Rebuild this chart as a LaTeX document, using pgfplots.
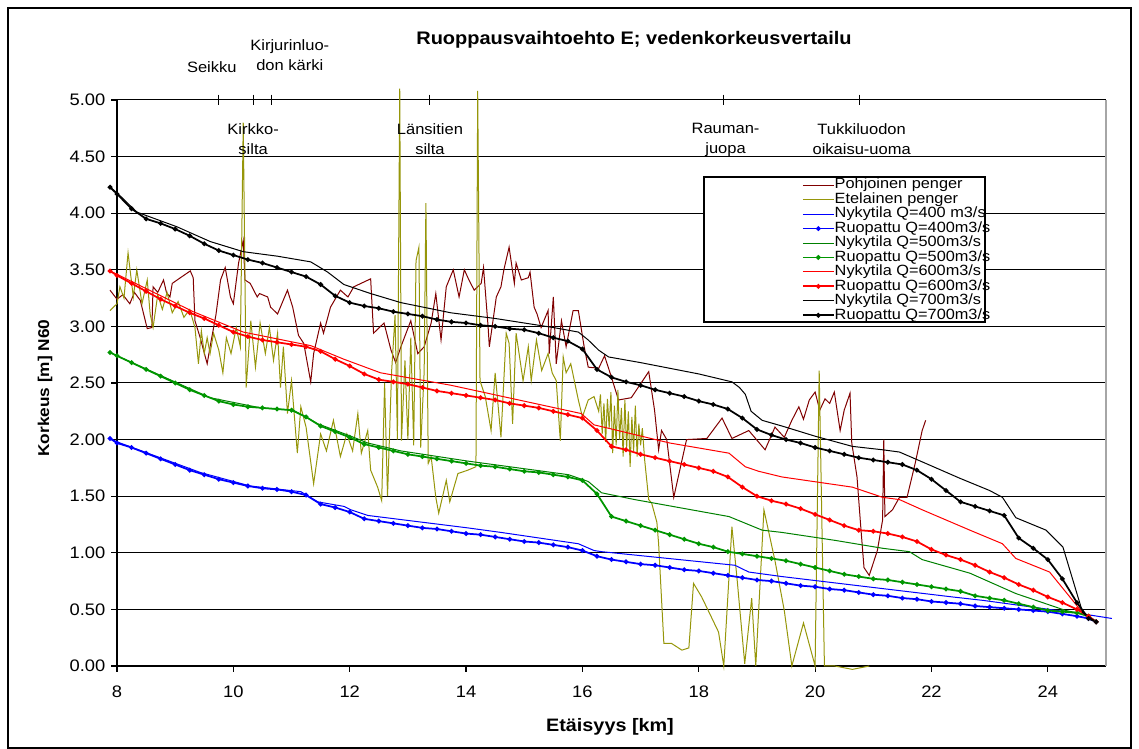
\documentclass[border=0pt]{standalone}
\usepackage{fontspec}
\setmainfont{Liberation Sans}[FakeStretch=1.1]
\usepackage{pgfplots}
\pgfplotsset{compat=1.18}

\definecolor{northbank}{RGB}{128,0,0}
\definecolor{southbank}{RGB}{150,150,10}
\definecolor{q400}{RGB}{0,0,255}
\definecolor{q500}{RGB}{0,128,0}
\definecolor{q500r}{RGB}{0,150,0}
\definecolor{q600}{RGB}{255,0,0}

\begin{document}
\begin{tikzpicture}
\useasboundingbox (-70.2pt,-49.8pt) rectangle (613.2pt,399.6pt);
\draw[line width=1pt] (-65.4pt,-49.2pt) rectangle (608.4pt,394.8pt);

\begin{axis}[
  at={(0pt,0pt)}, anchor=south west,
  scale only axis, width=593.4pt, height=339.6pt,
  xmin=8, xmax=25, ymin=0, ymax=5,
  clip=false,
  axis x line*=bottom, axis y line*=left,
  axis line style={line width=0.7pt, -},
  xtick={8,10,12,14,16,18,20,22,24},
  ytick={0,0.5,1,1.5,2,2.5,3,3.5,4,4.5,5},
  tick align=outside, major tick length=3.5pt,
  tick style={black, line width=0.7pt},
  ymajorgrids, grid style={black, line width=0.6pt},
  /pgf/number format/assume math mode=true,
  yticklabel style={/pgf/number format/.cd, fixed, fixed zerofill, precision=2},
  ticklabel style={font=\fontsize{10}{12}\selectfont},
  xticklabel style={yshift=-5pt},
  legend style={at={(0.6926,0.8622)}, anchor=north west, draw=none, fill=none,
    inner sep=0pt, outer sep=0pt, row sep=0pt,
    font=\fontsize{8.9}{9}\selectfont,
    nodes={inner ysep=0pt, inner xsep=0pt, text height=6.6pt, text depth=2.07pt},
    /tikz/every even column/.append style={column sep=3pt}},
  legend cell align=left,
  legend image code/.code={\draw[mark repeat=2,mark phase=2,#1] plot coordinates {(0pt,0pt) (9.3pt,0pt) (18.6pt,0pt)};},
  ruop/.style={line width=1.05pt, mark=*, mark size=0.85pt},
]

% legend frame (white, covers the grid behind the legend)
\filldraw[fill=white, draw=black, line width=0.7pt] (axis description cs:0.5935,0.8640) rectangle (axis description cs:0.8777,0.6078);
% right border of the plot area
\draw[gray!70, line width=0.7pt] (axis description cs:1,0) -- (axis description cs:1,1);

% north embankment
\addplot[northbank, line width=0.6pt] coordinates {
(7.88,3.32)(8.00,3.24)(8.10,3.28)(8.22,3.20)(8.30,3.30)(8.40,3.23)(8.52,2.98)(8.60,2.99)(8.62,3.35)(8.70,3.30)(8.80,3.41)
(8.85,3.30)(8.91,3.26)(8.95,3.38)(9.09,3.43)(9.26,3.49)(9.31,3.43)(9.34,3.05)(9.43,2.90)(9.55,2.67)(9.60,2.82)(9.70,3.10)
(9.78,3.41)(9.86,3.52)(9.95,3.26)(10.00,3.20)(10.09,3.56)(10.17,3.76)(10.20,3.41)(10.29,3.38)(10.41,3.26)(10.45,3.29)
(10.59,3.26)(10.64,3.17)(10.76,3.11)(10.93,3.32)(11.02,3.17)(11.12,2.92)(11.21,2.85)(11.33,2.51)(11.38,2.76)(11.50,3.03)
(11.55,2.94)(11.67,3.17)(11.84,3.32)(11.97,3.26)(12.07,3.35)(12.36,3.42)(12.41,2.94)(12.59,3.03)(12.71,2.79)(12.79,2.68)
(12.88,2.82)(13.05,3.05)(13.17,2.76)(13.28,2.82)(13.40,3.03)(13.48,3.29)(13.57,2.88)(13.66,3.35)(13.78,3.50)(13.88,3.26)
(13.97,3.50)(14.05,3.41)(14.14,3.32)(14.26,3.38)(14.30,3.52)(14.38,2.99)(14.40,2.82)(14.52,3.26)(14.60,3.35)(14.65,3.50)
(14.74,3.70)(14.83,3.38)(14.86,3.56)(14.95,3.41)(15.07,3.43)(15.10,3.48)(15.17,3.17)(15.22,3.11)(15.29,2.99)(15.41,3.14)
(15.43,2.76)(15.50,3.26)(15.55,2.67)(15.64,3.05)(15.72,2.82)(15.84,3.14)(15.93,3.14)(16.03,2.82)(16.10,2.64)(16.28,2.63)
(16.38,2.74)(16.50,2.55)(16.62,2.35)(16.84,2.37)(17.14,2.60)(17.24,2.26)(17.31,1.91)(17.36,2.08)(17.45,2.00)(17.57,1.49)
(17.79,2.00)(18.14,2.01)(18.40,2.19)(18.57,2.01)(18.86,2.08)(19.14,1.91)(19.31,2.11)(19.47,2.02)(19.60,2.17)(19.72,2.29)
(19.80,2.18)(19.90,2.35)(20.00,2.42)(20.08,2.26)(20.17,2.36)(20.25,2.32)(20.33,2.42)(20.43,2.08)(20.50,2.26)(20.60,2.41)
(20.63,1.97)(20.72,1.67)(20.78,1.26)(20.84,0.87)(20.93,0.80)(21.07,1.02)(21.16,1.29)(21.18,2.00)(21.20,1.32)(21.33,1.38)
(21.45,1.49)(21.58,1.49)(21.72,1.79)(21.84,2.08)(21.90,2.17)
};
\addlegendentry{Pohjoinen penger}

% south embankment
\addplot[southbank, line width=0.6pt] coordinates {
(7.88,3.14)(8.00,3.20)(8.05,3.35)(8.12,3.25)(8.19,3.65)(8.28,3.26)(8.34,3.50)(8.43,3.20)(8.52,3.41)(8.57,3.11)
(8.62,2.99)(8.70,3.28)(8.78,3.15)(8.86,3.30)(8.95,3.12)(9.05,3.22)(9.15,3.08)(9.25,3.15)(9.34,2.99)(9.40,2.67)
(9.45,2.96)(9.50,2.76)(9.55,2.90)(9.60,2.76)(9.66,2.94)(9.75,2.79)(9.82,2.59)(9.88,2.90)(9.96,2.76)(10.05,2.99)
(10.12,2.82)(10.17,4.80)(10.22,2.46)(10.30,3.05)(10.38,2.64)(10.46,3.03)(10.55,2.76)(10.62,2.99)(10.69,2.70)(10.76,2.94)
(10.81,2.46)(10.86,2.82)(10.93,2.23)(11.00,2.52)(11.10,1.88)(11.16,2.29)(11.25,2.11)(11.38,1.61)(11.50,2.05)(11.60,1.90)
(11.72,2.17)(11.84,1.85)(11.95,2.05)(12.05,1.90)(12.14,2.23)(12.20,1.88)(12.31,2.08)(12.36,1.73)(12.48,1.58)(12.55,1.46)
(12.60,2.50)(12.65,1.50)(12.72,2.60)(12.78,3.10)(12.82,2.00)(12.86,5.10)(12.89,1.99)(12.95,2.70)(13.00,2.00)(13.05,2.90)
(13.10,1.95)(13.14,3.58)(13.19,3.70)(13.22,1.93)(13.28,2.60)(13.31,4.09)(13.35,1.79)(13.40,1.85)(13.48,1.49)(13.53,1.35)
(13.62,1.55)(13.66,1.64)(13.72,1.45)(13.86,1.70)(14.03,1.73)(14.17,1.76)(14.20,5.08)(14.24,2.52)(14.33,2.38)(14.43,2.08)
(14.50,2.59)(14.60,2.02)(14.69,2.94)(14.74,2.85)(14.80,2.14)(14.86,2.94)(14.98,2.52)(15.07,2.82)(15.12,2.52)(15.21,2.88)
(15.30,2.61)(15.41,2.76)(15.48,2.59)(15.55,2.52)(15.62,1.99)(15.67,2.73)(15.72,2.59)(15.80,2.67)(15.93,2.35)(16.00,2.20)
(16.10,2.35)(16.20,2.38)(16.28,2.25)(16.31,2.40)(16.34,2.05)(16.37,2.32)(16.40,1.98)(16.43,2.36)(16.46,2.10)(16.49,2.42)
(16.52,1.88)(16.55,2.30)(16.58,1.95)(16.61,2.44)(16.64,2.00)(16.67,2.28)(16.70,1.85)(16.73,2.35)(16.76,1.92)(16.79,2.25)
(16.82,1.76)(16.85,2.20)(16.88,1.90)(16.91,2.30)(16.94,1.85)(16.97,2.14)(17.00,1.95)(17.03,2.10)(17.07,1.82)(17.14,1.47)
(17.19,1.44)(17.28,1.27)(17.31,1.08)(17.40,0.20)(17.53,0.20)(17.71,0.14)(17.83,0.16)(17.91,0.73)(18.05,0.61)(18.34,0.30)
(18.43,0.00)(18.57,1.23)(18.66,0.76)(18.79,0.02)(18.91,0.60)(18.98,0.00)(19.12,1.38)(19.31,0.93)(19.47,0.49)(19.60,0.00)
(19.80,0.38)(20.00,0.00)(20.07,2.61)(20.16,0.00)(20.34,0.00)(20.64,-0.03)(20.93,0.00)
};
\addlegendentry{Etelainen penger}

\addplot[q400, line width=0.6pt] coordinates {
(7.88,2.01)(8.00,1.98)(9.43,1.71)(10.29,1.59)(11.16,1.54)(11.45,1.45)(11.90,1.41)(12.02,1.38)(12.31,1.33)(14.03,1.22)
(14.60,1.18)(15.93,1.08)(16.20,1.02)(16.33,1.01)(18.62,0.89)(18.86,0.83)(19.43,0.79)(22.36,0.61)(22.88,0.58)(24.60,0.46)
(25.10,0.42)
};
\addlegendentry{Nykytila Q=400 m3/s}

\addplot[q400, ruop] coordinates {
(7.88,2.01)(8.00,1.97)(8.25,1.93)(8.50,1.88)(8.75,1.83)(9.00,1.78)(9.25,1.73)(9.50,1.69)(9.75,1.65)(10.00,1.62)
(10.25,1.59)(10.50,1.57)(10.75,1.56)(11.00,1.54)(11.25,1.51)(11.50,1.43)(11.75,1.40)(12.00,1.36)(12.25,1.30)(12.50,1.28)
(12.75,1.26)(13.00,1.24)(13.25,1.22)(13.50,1.21)(13.75,1.19)(14.00,1.17)(14.25,1.16)(14.50,1.14)(14.75,1.12)(15.00,1.10)
(15.25,1.09)(15.50,1.07)(15.75,1.05)(16.00,1.02)(16.25,0.97)(16.50,0.94)(16.75,0.92)(17.00,0.90)(17.25,0.89)(17.50,0.87)
(17.75,0.85)(18.00,0.84)(18.25,0.82)(18.50,0.80)(18.75,0.78)(19.00,0.76)(19.25,0.75)(19.50,0.73)(19.75,0.71)(20.00,0.70)
(20.25,0.68)(20.50,0.67)(20.75,0.65)(21.00,0.63)(21.25,0.62)(21.50,0.60)(21.75,0.59)(22.00,0.57)(22.25,0.56)(22.50,0.55)
(22.75,0.53)(23.00,0.52)(23.25,0.51)(23.50,0.50)(23.75,0.49)(24.00,0.48)(24.25,0.46)(24.50,0.44)(24.70,0.42)(24.83,0.39)
};
\addlegendentry{Ruopattu Q=400m3/s}

\addplot[q500, line width=0.6pt] coordinates {
(7.88,2.77)(8.00,2.74)(9.60,2.37)(10.47,2.28)(11.03,2.26)(11.45,2.14)(12.02,2.03)(12.31,1.97)(12.88,1.90)(14.03,1.81)
(15.76,1.69)(16.10,1.63)(16.33,1.53)(16.90,1.47)(18.52,1.32)(19.09,1.20)(19.43,1.18)(20.34,1.11)(21.16,1.04)(21.62,1.01)
(21.84,0.94)(22.66,0.82)(23.45,0.64)(24.31,0.49)(24.60,0.46)(24.83,0.39)
};
\addlegendentry{Nykytila Q=500m3/s}

\addplot[q500r, ruop] coordinates {
(7.88,2.77)(8.00,2.74)(8.25,2.68)(8.50,2.62)(8.75,2.56)(9.00,2.50)(9.25,2.44)(9.50,2.39)(9.75,2.34)(10.00,2.31)
(10.25,2.29)(10.50,2.28)(10.75,2.27)(11.00,2.26)(11.25,2.20)(11.50,2.12)(11.75,2.07)(12.00,2.02)(12.25,1.96)(12.50,1.93)
(12.75,1.90)(13.00,1.87)(13.25,1.85)(13.50,1.83)(13.75,1.81)(14.00,1.79)(14.25,1.77)(14.50,1.76)(14.75,1.74)(15.00,1.72)
(15.25,1.71)(15.50,1.69)(15.75,1.67)(16.00,1.64)(16.25,1.52)(16.50,1.32)(16.75,1.28)(17.00,1.24)(17.25,1.20)(17.50,1.16)
(17.75,1.12)(18.00,1.08)(18.25,1.05)(18.50,1.01)(18.75,0.99)(19.00,0.97)(19.25,0.95)(19.50,0.93)(19.75,0.90)(20.00,0.87)
(20.25,0.84)(20.50,0.81)(20.75,0.79)(21.00,0.77)(21.25,0.76)(21.50,0.74)(21.75,0.72)(22.00,0.70)(22.25,0.68)(22.50,0.66)
(22.75,0.62)(23.00,0.60)(23.25,0.58)(23.50,0.55)(23.75,0.52)(24.00,0.49)(24.25,0.48)(24.50,0.47)(24.70,0.44)(24.83,0.39)
};
\addlegendentry{Ruopattu Q=500m3/s}

\addplot[q600, line width=0.6pt] coordinates {
(7.88,3.49)(8.00,3.46)(9.31,3.13)(10.17,2.95)(11.33,2.83)(11.90,2.71)(12.53,2.59)(13.74,2.48)(15.98,2.23)(16.20,2.13)
(16.45,2.10)(17.50,1.97)(18.52,1.88)(18.80,1.76)(19.03,1.72)(19.43,1.67)(20.64,1.58)(21.16,1.49)(21.45,1.47)(21.84,1.38)
(22.66,1.20)(23.22,1.08)(23.45,0.95)(24.03,0.83)(24.60,0.47)(24.83,0.39)
};
\addlegendentry{Nykytila Q=600m3/s}

\addplot[q600, ruop] coordinates {
(7.88,3.49)(8.00,3.45)(8.25,3.38)(8.50,3.31)(8.75,3.24)(9.00,3.18)(9.25,3.12)(9.50,3.07)(9.75,3.01)(10.00,2.95)
(10.25,2.91)(10.50,2.88)(10.75,2.86)(11.00,2.84)(11.25,2.82)(11.50,2.78)(11.75,2.71)(12.00,2.65)(12.25,2.58)(12.50,2.53)
(12.75,2.51)(13.00,2.49)(13.25,2.46)(13.50,2.43)(13.75,2.41)(14.00,2.39)(14.25,2.37)(14.50,2.35)(14.75,2.32)(15.00,2.30)
(15.25,2.28)(15.50,2.25)(15.75,2.22)(16.00,2.19)(16.25,2.08)(16.50,1.94)(16.75,1.91)(17.00,1.87)(17.25,1.84)(17.50,1.81)
(17.75,1.78)(18.00,1.75)(18.25,1.72)(18.50,1.67)(18.75,1.58)(19.00,1.50)(19.25,1.46)(19.50,1.43)(19.75,1.39)(20.00,1.34)
(20.25,1.29)(20.50,1.24)(20.75,1.20)(21.00,1.19)(21.25,1.17)(21.50,1.14)(21.75,1.10)(22.00,1.03)(22.25,0.98)(22.50,0.94)
(22.75,0.89)(23.00,0.83)(23.25,0.78)(23.50,0.72)(23.75,0.67)(24.00,0.61)(24.25,0.56)(24.50,0.50)(24.70,0.44)(24.83,0.39)
};
\addlegendentry{Ruopattu Q=600m3/s}

\addplot[black, line width=0.6pt] coordinates {
(7.88,4.23)(8.00,4.18)(8.34,4.01)(9.03,3.88)(9.60,3.75)(10.17,3.66)(10.76,3.62)(11.33,3.57)(11.62,3.48)(11.90,3.37)
(12.36,3.29)(12.88,3.21)(13.74,3.12)(14.50,3.07)(15.00,3.03)(15.50,2.99)(15.93,2.95)(16.10,2.88)(16.28,2.79)(16.45,2.73)
(17.00,2.68)(17.50,2.63)(18.00,2.58)(18.57,2.51)(18.70,2.46)(18.80,2.40)(18.90,2.25)(19.09,2.17)(19.43,2.12)(20.00,2.03)
(20.64,1.94)(21.16,1.91)(21.45,1.89)(21.90,1.79)(22.48,1.66)(23.00,1.55)(23.22,1.49)(23.45,1.31)(23.97,1.20)(24.26,1.05)
(24.60,0.47)(24.83,0.39)
};
\addlegendentry{Nykytila Q=700m3/s}

\addplot[black, ruop] coordinates {
(7.88,4.23)(8.00,4.17)(8.25,4.04)(8.50,3.95)(8.75,3.91)(9.00,3.86)(9.25,3.80)(9.50,3.73)(9.75,3.67)(10.00,3.63)
(10.25,3.59)(10.50,3.56)(10.75,3.52)(11.00,3.48)(11.25,3.44)(11.50,3.37)(11.75,3.27)(12.00,3.21)(12.25,3.18)(12.50,3.16)
(12.75,3.13)(13.00,3.11)(13.25,3.09)(13.50,3.06)(13.75,3.04)(14.00,3.03)(14.25,3.01)(14.50,3.00)(14.75,2.98)(15.00,2.97)
(15.25,2.94)(15.50,2.90)(15.75,2.87)(16.00,2.80)(16.25,2.62)(16.50,2.55)(16.75,2.51)(17.00,2.48)(17.25,2.44)(17.50,2.41)
(17.75,2.38)(18.00,2.34)(18.25,2.31)(18.50,2.27)(18.75,2.19)(19.00,2.09)(19.25,2.04)(19.50,2.00)(19.75,1.97)(20.00,1.93)
(20.25,1.90)(20.50,1.87)(20.75,1.84)(21.00,1.82)(21.25,1.80)(21.50,1.78)(21.75,1.73)(22.00,1.65)(22.25,1.55)(22.50,1.45)
(22.75,1.41)(23.00,1.37)(23.25,1.33)(23.50,1.13)(23.75,1.04)(24.00,0.94)(24.25,0.77)(24.50,0.56)(24.70,0.42)(24.83,0.39)
};
\addlegendentry{Ruopattu Q=700m3/s}

% landmarks along the river
\addplot[forget plot, only marks, black, mark=+, mark size=3.2pt, line width=0.6pt] coordinates {
(9.75,5)(10.34,5)(10.66,5)(13.38,5)(18.42,5)(20.77,5)
};
\begin{scope}[every node/.style={font=\fontsize{9}{12}\selectfont, align=center, inner sep=0pt}]
\node at (axis cs:9.63,5.29) {Seikku};
\node at (axis cs:10.97,5.40) {Kirjurinluo-\\don kärki};
\node at (axis cs:10.34,4.65) {Kirkko-\\silta};
\node at (axis cs:13.38,4.65) {Länsitien\\silta};
\node at (axis cs:18.46,4.65) {Rauman-\\juopa};
\node at (axis cs:20.80,4.65) {Tukkiluodon\\oikaisu-uoma};
\end{scope}
\end{axis}

\node[font=\bfseries\fontsize{10.9}{13}\selectfont] at (310.2pt,375.6pt) {Ruoppausvaihtoehto E; vedenkorkeusvertailu};
\node[font=\bfseries\fontsize{10.8}{13}\selectfont] at (295.8pt,-36.6pt) {Etäisyys [km]};
\node[font=\bfseries\fontsize{9.4}{12}\selectfont, rotate=90] at (-43.2pt,166.8pt) {Korkeus [m] N60};
\end{tikzpicture}
\end{document}
